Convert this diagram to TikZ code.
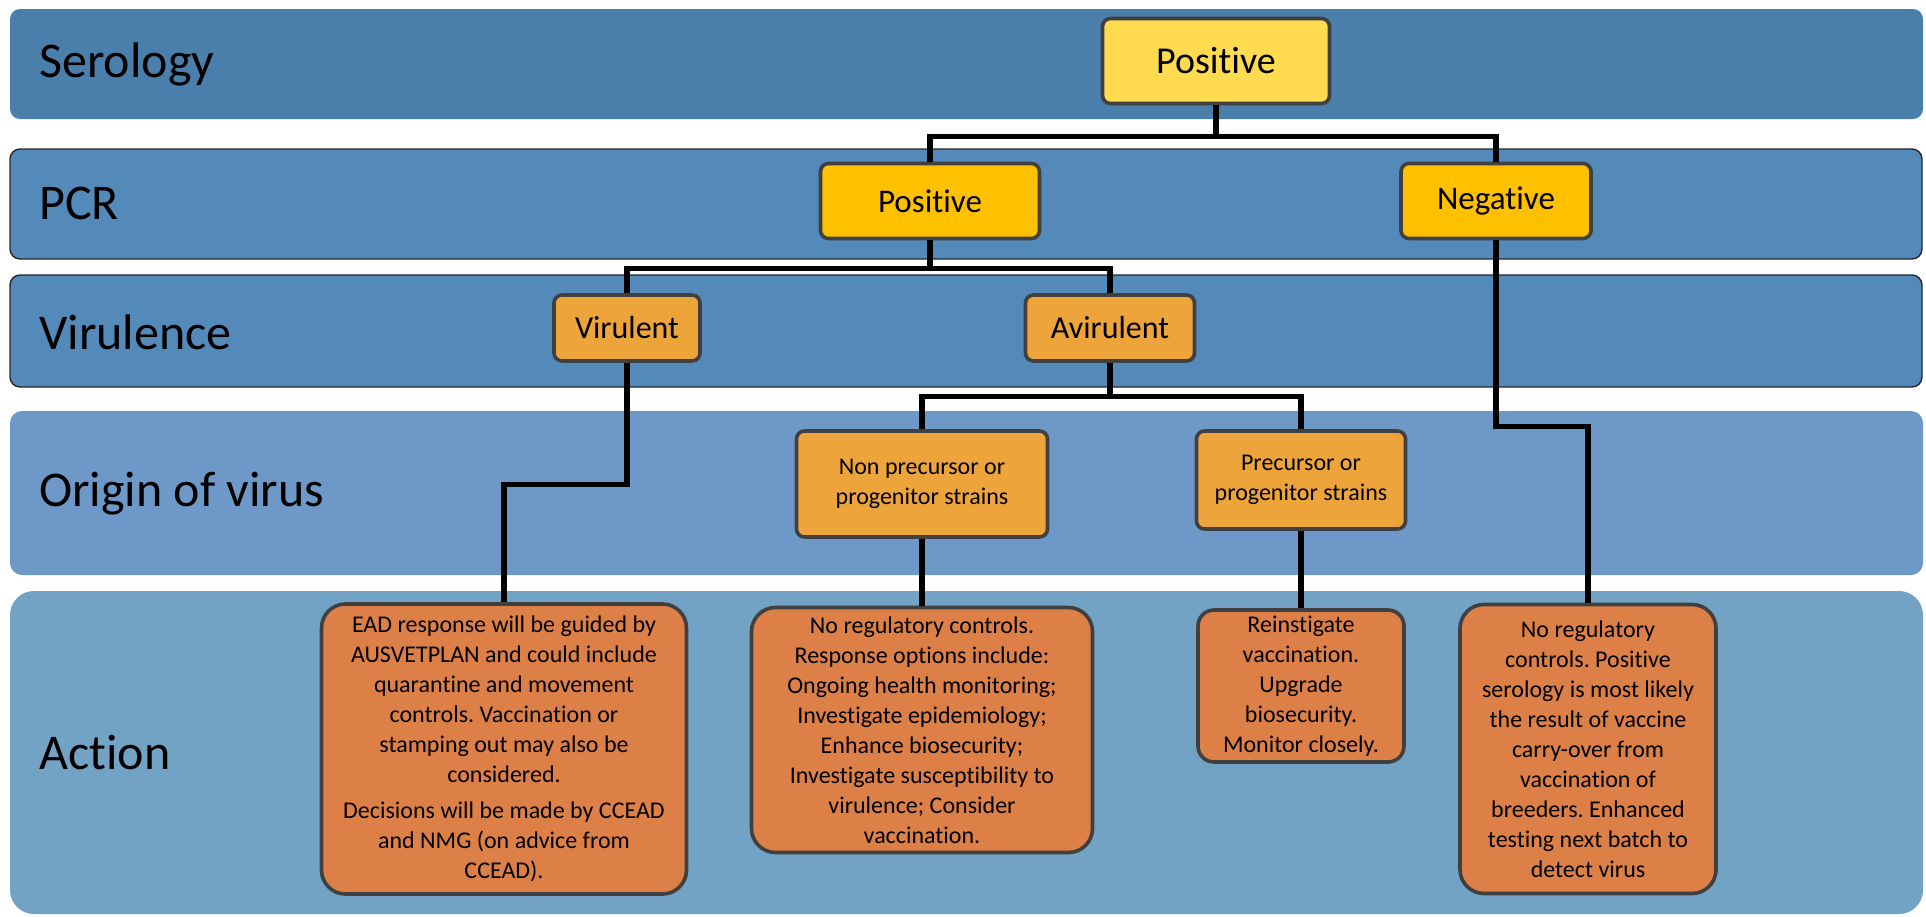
\documentclass[tikz,border=0pt]{standalone}
\usepackage{fontspec}
\setmainfont{Carlito}[Ligatures=NoCommon]
\usetikzlibrary{positioning}
\frenchspacing
\definecolor{serband}{HTML}{4A7EAB}
\definecolor{pcrband}{HTML}{548AB9}
\definecolor{origband}{HTML}{6E98C8}
\definecolor{actband}{HTML}{72A2C4}
\definecolor{yel}{HTML}{FFDB4F}
\definecolor{amber}{HTML}{FFC000}
\definecolor{orng}{HTML}{EDA43A}
\definecolor{rust}{HTML}{DD8047}
\definecolor{edge}{HTML}{404040}

\begin{document}
\begin{tikzpicture}[x=0.5pt,y=-0.5pt,
  box/.style={draw=edge,line width=1.8pt,rounded corners=4pt,align=center,inner sep=0pt},
  act/.style={box,fill=rust,rounded corners=12pt,font=\fontsize{12}{15}\selectfont},
  small/.style={box,fill=orng,font=\fontsize{12}{15}\selectfont},
  band/.style={font=\fontsize{25}{29}\selectfont,anchor=west,inner sep=0pt},
  link/.style={line width=2.6pt}]
  \useasboundingbox (0,0) rectangle (1926,916);

  % Bands
  \fill[serband,rounded corners=5pt] (10,9) rectangle (1923,119);
  \filldraw[fill=pcrband,draw=black!85,line width=0.7pt,rounded corners=5pt] (10,149) rectangle (1922,259);
  \filldraw[fill=pcrband,draw=black!85,line width=0.7pt,rounded corners=5pt] (10,275) rectangle (1922,387);
  \fill[origband,rounded corners=6pt] (10,411) rectangle (1923,575);
  \fill[actband,rounded corners=12pt] (10,591) rectangle (1923,914);

  \node[band] (serlab) at (39,64) {Serology};
  \node[band] (pcrlab) at (39,203) {PCR};
  \node[band] (virlab) at (39,332) {Virulence};
  \node[band] (orilab) at (39,494) {Origin of virus};
  \node[band] (actlab) at (39,752) {Action};

  % Test results
  \node[box,fill=yel,minimum width=113.5pt,minimum height=42.5pt,font=\fontsize{19}{23}\selectfont] (seropos) at (1216,61) {Positive};
  \node[box,fill=amber,minimum width=109.5pt,minimum height=37.5pt,font=\fontsize{16.5}{20}\selectfont] (pcrpos) at (930,201) {Positive};
  \node[box,fill=amber,minimum width=95pt,minimum height=37.5pt,font=\fontsize{16.5}{20}\selectfont] (pcrneg) at (1496,201) {Negative};
  \node[box,fill=orng,minimum width=73pt,minimum height=33pt,font=\fontsize{16}{20}\selectfont] (vir) at (627,328) {Virulent};
  \node[box,fill=orng,minimum width=84.5pt,minimum height=33pt,font=\fontsize{16}{20}\selectfont] (avir) at (1110,328) {Avirulent};
  \node[small,minimum width=125.5pt,minimum height=53pt] (nonprec) at (922,484) {Non precursor or\\progenitor strains};
  \node[small,minimum width=104.5pt,minimum height=49pt] (prec) at (1301,480) {Precursor or\\progenitor strains};

  % Actions
  \node[act,minimum width=182.5pt,minimum height=145pt] (ead) at (504,749)
    {EAD response will be guided by\\AUSVETPLAN and could include\\quarantine and movement\\controls. Vaccination or\\stamping out may also be\\considered.\\[3pt]Decisions will be made by CCEAD\\and NMG (on advice from\\CCEAD).};
  \node[act,minimum width=170.5pt,minimum height=122.5pt] (noreg) at (922,730)
    {No regulatory controls.\\Response options include:\\Ongoing health monitoring;\\Investigate epidemiology;\\Enhance biosecurity;\\Investigate susceptibility to\\virulence; Consider\\vaccination.};
  \node[act,rounded corners=8pt,minimum width=103pt,minimum height=76pt] (reinst) at (1301,686)
    {Reinstigate\\vaccination.\\Upgrade\\biosecurity.\\Monitor closely.};
  \node[act,minimum width=128pt,minimum height=144.5pt] (carry) at (1588,749)
    {No regulatory\\controls. Positive\\serology is most likely\\the result of vaccine\\carry-over from\\vaccination of\\breeders. Enhanced\\testing next batch to\\detect virus};

  % Connectors
  \draw[link] (seropos.south) -- ++(0,31) -| (pcrpos.north);
  \draw[link] (seropos.south) -- ++(0,31) -| (pcrneg.north);
  \draw[link] (pcrpos.south) -- ++(0,28) -| (vir.north);
  \draw[link] (pcrpos.south) -- ++(0,28) -| (avir.north);
  \draw[link] (avir.south) -- ++(0,34) -| (nonprec.north);
  \draw[link] (avir.south) -- ++(0,34) -| (prec.north);
  \draw[link] (vir.south) -- ++(0,122) -| (ead.north);
  \draw[link] (pcrneg.south) -- ++(0,186) -| (carry.north);
  \draw[link] (nonprec.south) -- (noreg.north);
  \draw[link] (prec.south) -- (reinst.north);
\end{tikzpicture}
\end{document}
